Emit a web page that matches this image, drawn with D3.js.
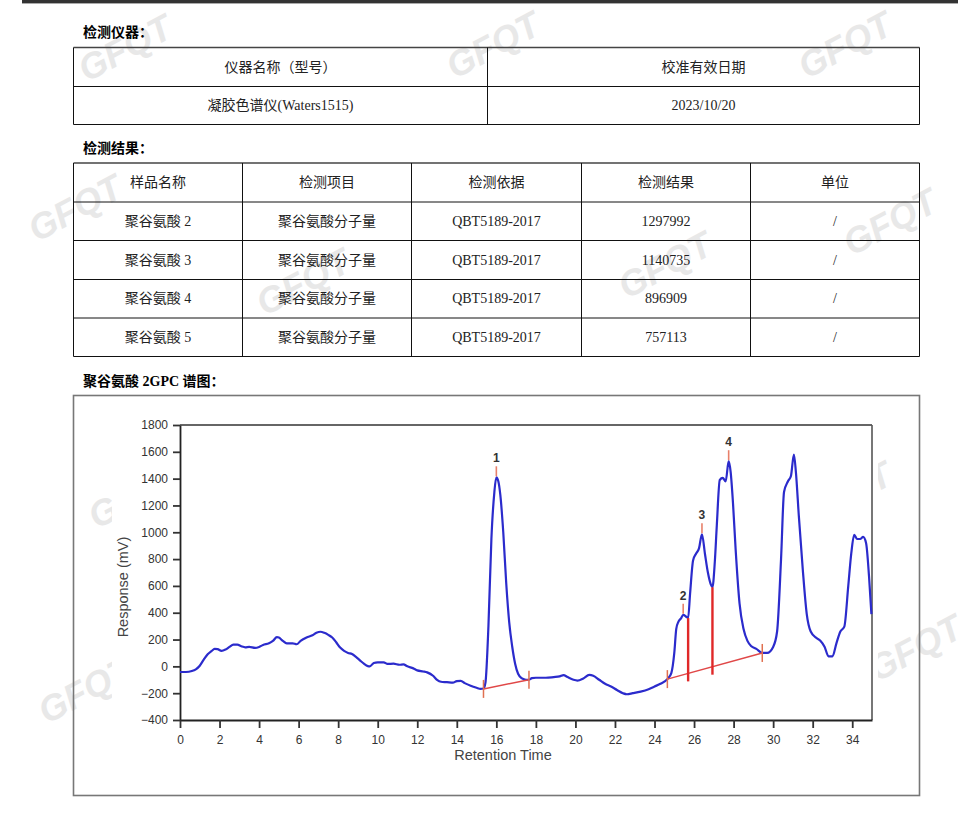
<!DOCTYPE html>
<html><head><meta charset="utf-8">
<script src="https://cdn.jsdelivr.net/npm/d3@7"></script>
<style>body{margin:0;background:#fff;} svg{display:block}</style>
</head><body>
<svg id="c" width="958" height="817"></svg>
<script>
// ---------- table data ----------
const instrumentHeaders = ["仪器名称（型号）", "校准有效日期"];
const instrumentRow = ["凝胶色谱仪(Waters1515)", "2023/10/20"];
const resultHeaders = ["样品名称", "检测项目", "检测依据", "检测结果", "单位"];
const sampleNames = ["聚谷氨酸 2", "聚谷氨酸 3", "聚谷氨酸 4", "聚谷氨酸 5"];
const testItems = ["聚谷氨酸分子量", "聚谷氨酸分子量", "聚谷氨酸分子量", "聚谷氨酸分子量"];
const testMethods = ["QBT5189-2017", "QBT5189-2017", "QBT5189-2017", "QBT5189-2017"];
const testResults = ["1297992", "1140735", "896909", "757113"];
const testUnits = ["/", "/", "/", "/"];

// ---------- chromatogram data ----------
const times = [0.0,0.3,0.6,0.8,1.0,1.2,1.4,1.6,1.75,1.9,2.1,2.3,2.5,2.7,2.9,3.1,3.3,3.5,3.8,4.0,4.2,4.5,4.7,4.9,5.0,5.2,5.4,5.7,5.9,6.1,6.4,6.7,6.9,7.1,7.3,7.5,7.7,7.9,8.1,8.3,8.5,8.7,8.9,9.1,9.3,9.5,9.6,9.8,10.0,10.3,10.5,10.8,11.1,11.3,11.5,11.8,12.0,12.3,12.5,12.8,13.0,13.2,13.5,13.8,14.0,14.2,14.4,14.7,15.0,15.2,15.35,15.45,15.6,15.75,15.9,16.0,16.1,16.2,16.35,16.5,16.65,16.8,16.95,17.1,17.3,17.5,17.65,17.8,18.0,18.5,18.9,19.2,19.4,19.6,19.9,20.1,20.4,20.7,20.9,21.2,21.5,21.8,22.1,22.4,22.6,22.9,23.3,23.7,24.0,24.3,24.65,24.85,25.0,25.1,25.2,25.35,25.45,25.6,25.7,25.8,25.95,26.1,26.25,26.4,26.55,26.7,26.85,26.93,27.05,27.15,27.3,27.45,27.6,27.75,27.85,27.97,28.1,28.3,28.5,28.7,28.9,29.15,29.45,29.7,30.0,30.2,30.4,30.55,30.75,30.9,31.05,31.15,31.3,31.5,31.7,31.9,32.2,32.4,32.6,32.8,33.0,33.2,33.4,33.6,33.8,33.95,34.1,34.25,34.4,34.55,34.7,34.85,34.97];
const responses = [-42,-42,-35,-22,5,50,90,115,130,128,115,125,145,162,162,150,142,145,138,145,160,172,190,218,215,190,172,172,165,190,215,232,250,258,250,235,215,180,140,115,100,92,70,45,20,2,0,25,30,30,18,20,12,15,0,-15,-30,-38,-45,-70,-100,-115,-118,-122,-110,-108,-125,-145,-160,-168,-165,-120,300,950,1300,1410,1380,1280,1000,620,330,150,20,-55,-90,-100,-100,-88,-85,-85,-80,-75,-65,-80,-100,-106,-90,-64,-70,-100,-130,-150,-176,-200,-208,-200,-188,-170,-150,-130,-95,-50,100,280,330,360,385,370,360,545,790,840,880,985,840,700,610,590,780,1050,1390,1405,1380,1530,1450,1216,880,470,280,190,150,130,100,100,145,260,800,1300,1380,1420,1580,1450,1120,720,390,260,210,190,147,75,75,172,260,296,600,840,980,950,950,965,920,670,390];

const peakLabels = ["1", "2", "3", "4"];
const peakTimes = [16.0, 25.45, 26.4, 27.75];
const peakValues = [1410, 385, 985, 1530];
const baseStartT = [15.35, 24.65];
const baseStartV = [-168, -95];
const baseEndT = [17.65, 29.45];
const baseEndV = [-100, 100];
const dropTimes = [25.7, 26.93];
const dropValues = [360, 590];

const xTickValues = [0,2,4,6,8,10,12,14,16,18,20,22,24,26,28,30,32,34];
const yTickValues = [-400,-200,0,200,400,600,800,1000,1200,1400,1600,1800];
const xTitle = "Retention Time";
const yTitle = "Response (mV)";

// ---------- drawing ----------
const svg = d3.select("#c");
const CJK = "'Liberation Serif','Noto Sans CJK SC',serif";
const SANS = "'Liberation Sans',Arial,sans-serif";

// top rule
svg.append("rect").attr("x", 22).attr("y", 0).attr("width", 936).attr("height", 3).attr("fill", "#333");
svg.append("rect").attr("x", 22).attr("y", 3).attr("width", 936).attr("height", 1).attr("fill", "#aaa");

// watermarks
const wm = [[125,48],[493,45],[845,45],[75,208],[303,282],[665,265],[890,222],[135,495],[85,690],[845,495],[915,648]];
svg.append("g").selectAll("text").data(wm).join("text")
  .attr("transform", d => `translate(${d[0]},${d[1]}) rotate(-28)`)
  .attr("text-anchor", "middle").attr("dominant-baseline", "central")
  .attr("font-family", SANS).attr("font-weight", "bold").attr("font-style", "italic")
  .attr("font-size", 36).attr("fill", "#e8e8e8").text("GFQT");

// chart image white region (covers watermarks)
svg.append("rect").attr("x", 112).attr("y", 400).attr("width", 766).attr("height", 390).attr("fill", "#fff");

// headings
function heading(txt, x, y) {
  svg.append("text").attr("x", x).attr("y", y).attr("font-family", CJK)
    .attr("font-weight", "bold").attr("font-size", 14).attr("fill", "#000").text(txt);
}
heading("检测仪器：", 83, 37);
heading("检测结果：", 83, 153);
heading("聚谷氨酸 2GPC 谱图：", 83, 386);

// generic table
function table(cols, rows, data) {
  const g = svg.append("g");
  const x0 = cols[0], x1 = cols[cols.length - 1];
  rows.forEach((ry, i) => g.append("line").attr("x1", x0).attr("x2", x1).attr("y1", ry).attr("y2", ry)
    .attr("stroke", i === 0 ? "#444" : "#111").attr("stroke-width", i === 0 ? 1.6 : 1));
  cols.forEach(cx => g.append("line").attr("x1", cx).attr("x2", cx).attr("y1", rows[0]).attr("y2", rows[rows.length - 1])
    .attr("stroke", "#111").attr("stroke-width", 1));
  data.forEach((row, ri) => row.forEach((t, ci) => {
    g.append("text").attr("x", (cols[ci] + cols[ci + 1]) / 2).attr("y", (rows[ri] + rows[ri + 1]) / 2)
      .attr("text-anchor", "middle").attr("dominant-baseline", "central")
      .attr("font-family", CJK).attr("font-size", 14).attr("fill", "#222").text(t);
  }));
}
table([73.5, 487.5, 919.5], [47.5, 86.5, 124.5], [instrumentHeaders, instrumentRow]);
const resRows = [resultHeaders].concat(sampleNames.map((s, i) => [s, testItems[i], testMethods[i], testResults[i], testUnits[i]]));
table([73.5, 242.5, 411.5, 581.5, 750.5, 919.5], [163, 202, 240.5, 279.5, 318, 356.5], resRows);

// chart box
svg.append("rect").attr("x", 73.5).attr("y", 395.5).attr("width", 846).attr("height", 400)
  .attr("fill", "none").attr("stroke", "#777").attr("stroke-width", 1.6);

// scales
const x = d3.scaleLinear().domain([0, 35]).range([180, 872]);
const y = d3.scaleLinear().domain([-400, 1800]).range([720, 425]);

// plot frame (top & right)
svg.append("line").attr("x1", 180).attr("x2", 872).attr("y1", 425).attr("y2", 425).attr("stroke", "#333").attr("stroke-width", 1.6);
svg.append("line").attr("x1", 872).attr("x2", 872).attr("y1", 425).attr("y2", 720).attr("stroke", "#555").attr("stroke-width", 1.6);

// axes
const ax = svg.append("g").attr("transform", "translate(0,720)")
  .call(d3.axisBottom(x).tickValues(xTickValues).tickSize(8).tickSizeOuter(0).tickPadding(7).tickFormat(d3.format("d")));
const ay = svg.append("g").attr("transform", "translate(180,0)")
  .call(d3.axisLeft(y).tickValues(yTickValues).tickSize(7).tickSizeOuter(0).tickPadding(5).tickFormat(d3.format("d")));
[ax, ay].forEach(a => {
  a.select(".domain").attr("stroke", "#222").attr("stroke-width", 1.8);
  a.selectAll(".tick line").attr("stroke", "#333").attr("stroke-width", 1.8);
  a.selectAll(".tick text").attr("font-family", SANS).attr("font-size", 12).attr("fill", "#333");
});

// axis titles
svg.append("text").attr("x", 503).attr("y", 760).attr("text-anchor", "middle")
  .attr("font-family", SANS).attr("font-size", 14.5).attr("fill", "#444").text(xTitle);
svg.append("text").attr("transform", "translate(128,587) rotate(-90)").attr("text-anchor", "middle")
  .attr("font-family", SANS).attr("font-size", 14.5).attr("fill", "#444").text(yTitle);

// signal line
const pts = times.map((t, i) => [t, responses[i]]);
svg.append("path").datum(pts)
  .attr("d", d3.line().x(d => x(d[0])).y(d => y(d[1])).curve(d3.curveMonotoneX))
  .attr("fill", "none").attr("stroke", "#2b2bcc").attr("stroke-width", 2.2).attr("stroke-linejoin", "round");

// baselines
const red = "#e04848";
baseStartT.forEach((t0, i) => {
  svg.append("line").attr("x1", x(t0)).attr("y1", y(baseStartV[i])).attr("x2", x(baseEndT[i])).attr("y2", y(baseEndV[i]))
    .attr("stroke", red).attr("stroke-width", 1.5);
  [[t0, baseStartV[i]], [baseEndT[i], baseEndV[i]]].forEach(p => {
    svg.append("line").attr("x1", x(p[0])).attr("x2", x(p[0])).attr("y1", y(p[1]) - 9).attr("y2", y(p[1]) + 9)
      .attr("stroke", "#e07050").attr("stroke-width", 1.5);
  });
});
// drop lines
dropTimes.forEach((t, i) => {
  const bi = 1;
  const bv = baseStartV[bi] + (baseEndV[bi] - baseStartV[bi]) * (t - baseStartT[bi]) / (baseEndT[bi] - baseStartT[bi]);
  svg.append("line").attr("x1", x(t)).attr("x2", x(t)).attr("y1", y(dropValues[i])).attr("y2", y(bv) + 8)
    .attr("stroke", "#e02828").attr("stroke-width", 2.4);
});
// peak markers and labels
peakTimes.forEach((t, i) => {
  svg.append("line").attr("x1", x(t)).attr("x2", x(t)).attr("y1", y(peakValues[i]) - 1).attr("y2", y(peakValues[i]) - 11)
    .attr("stroke", "#e8806a").attr("stroke-width", 1.6);
  svg.append("text").attr("x", x(t)).attr("y", y(peakValues[i]) - 15).attr("text-anchor", "middle")
    .attr("font-family", SANS).attr("font-weight", "bold").attr("font-size", 12).attr("fill", "#333").text(peakLabels[i]);
});
</script>
</body></html>
